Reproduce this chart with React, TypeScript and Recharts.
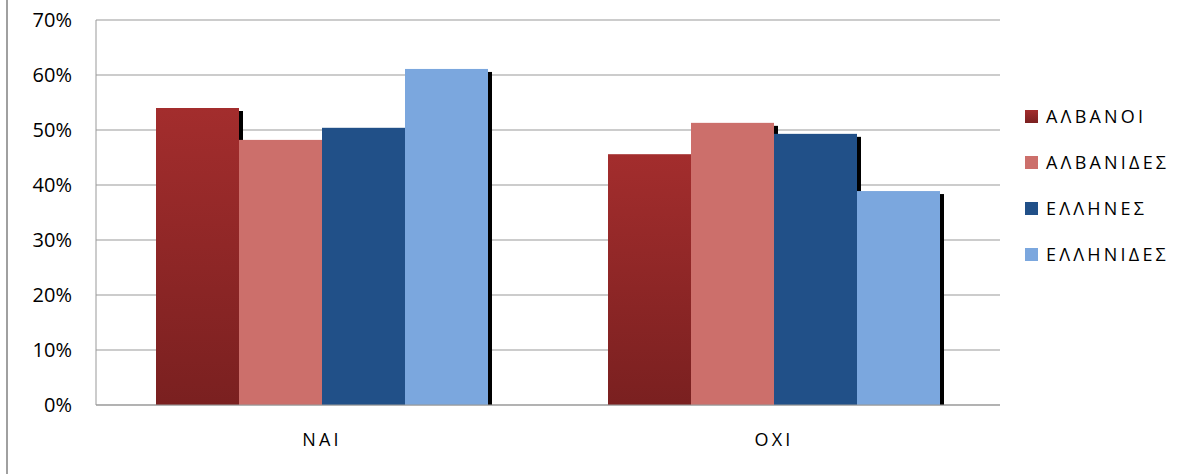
import React from "react";
import { Bar, BarChart, CartesianGrid, XAxis, YAxis } from "recharts";

const categories = ["ΝΑΙ", "ΟΧΙ"];
const albanoi = [54.0, 45.6];
const albanides = [48.2, 51.3];
const ellines = [50.4, 49.3];
const ellinides = [61.1, 38.9];
const yTicks = [0, 10, 20, 30, 40, 50, 60, 70];

const series = [
  { key: "albanoi", name: "ΑΛΒΑΝΟΙ", fill: "url(#albGrad)", swatch: "linear-gradient(#a32d2d, #7a2020)" },
  { key: "albanides", name: "ΑΛΒΑΝΙΔΕΣ", fill: "#cc6f6b", swatch: "#cc6f6b" },
  { key: "ellines", name: "ΕΛΛΗΝΕΣ", fill: "#215088", swatch: "#215088" },
  { key: "ellinides", name: "ΕΛΛΗΝΙΔΕΣ", fill: "#7ba7de", swatch: "#7ba7de" },
];

const data = categories.map((c, i) => ({
  cat: c,
  albanoi: albanoi[i],
  albanides: albanides[i],
  ellines: ellines[i],
  ellinides: ellinides[i],
}));

const FONT = "'Open Sans', sans-serif";

// bar with a small black drop shadow to the lower right
function ShadowBar(props: any) {
  const { x, y, width, height, fill } = props;
  if (!height || height <= 0) return null;
  return (
    <g>
      <rect x={x + 4} y={y + 3} width={width} height={Math.max(height - 3, 0)} fill="#000" />
      <rect x={x} y={y} width={width} height={height} fill={fill} />
    </g>
  );
}

function LegendBox() {
  return (
    <div style={{ position: "absolute", left: 1025, top: 93, fontFamily: FONT }}>
      {series.map((s) => (
        <div key={s.key} style={{ display: "flex", alignItems: "center", height: 46 }}>
          <div style={{ width: 13, height: 13, background: s.swatch, marginRight: 8 }} />
          <span style={{ fontSize: 18, letterSpacing: 3.2, color: "#000" }}>{s.name}</span>
        </div>
      ))}
    </div>
  );
}

export default function App() {
  return (
    <div style={{ position: "absolute", left: 0, top: 0, width: 1184, height: 474, background: "#fff" }}>
      <div style={{ position: "absolute", left: 6, top: 0, width: 2, height: 474, background: "#a0a0a0" }} />
      <BarChart
        width={1184}
        height={474}
        data={data}
        margin={{ top: 20, right: 184, bottom: 29, left: 0 }}
        barCategoryGap={60}
        barGap={0}
      >
        <defs>
          <linearGradient id="albGrad" x1="0" y1="0" x2="0" y2="1">
            <stop offset="0%" stopColor="#a32d2d" />
            <stop offset="100%" stopColor="#7a2020" />
          </linearGradient>
        </defs>
        <CartesianGrid stroke="#999" vertical={false} />
        <XAxis
          dataKey="cat"
          height={40}
          tickSize={0}
          tickMargin={28}
          axisLine={{ stroke: "#999" }}
          tick={{ fill: "#000", fontSize: 18, fontFamily: FONT, letterSpacing: 3.2 }}
        />
        <YAxis
          width={96}
          domain={[0, 70]}
          ticks={yTicks}
          tickFormatter={(v) => `${v}%`}
          tickSize={0}
          tickMargin={24}
          axisLine={{ stroke: "#999" }}
          tick={{ fill: "#000", fontSize: 20, fontFamily: FONT }}
        />
        {series.map((s) => (
          <Bar
            key={s.key}
            dataKey={s.key}
            name={s.name}
            fill={s.fill}
            shape={ShadowBar}
            isAnimationActive={false}
          />
        ))}
      </BarChart>
      <LegendBox />
    </div>
  );
}
